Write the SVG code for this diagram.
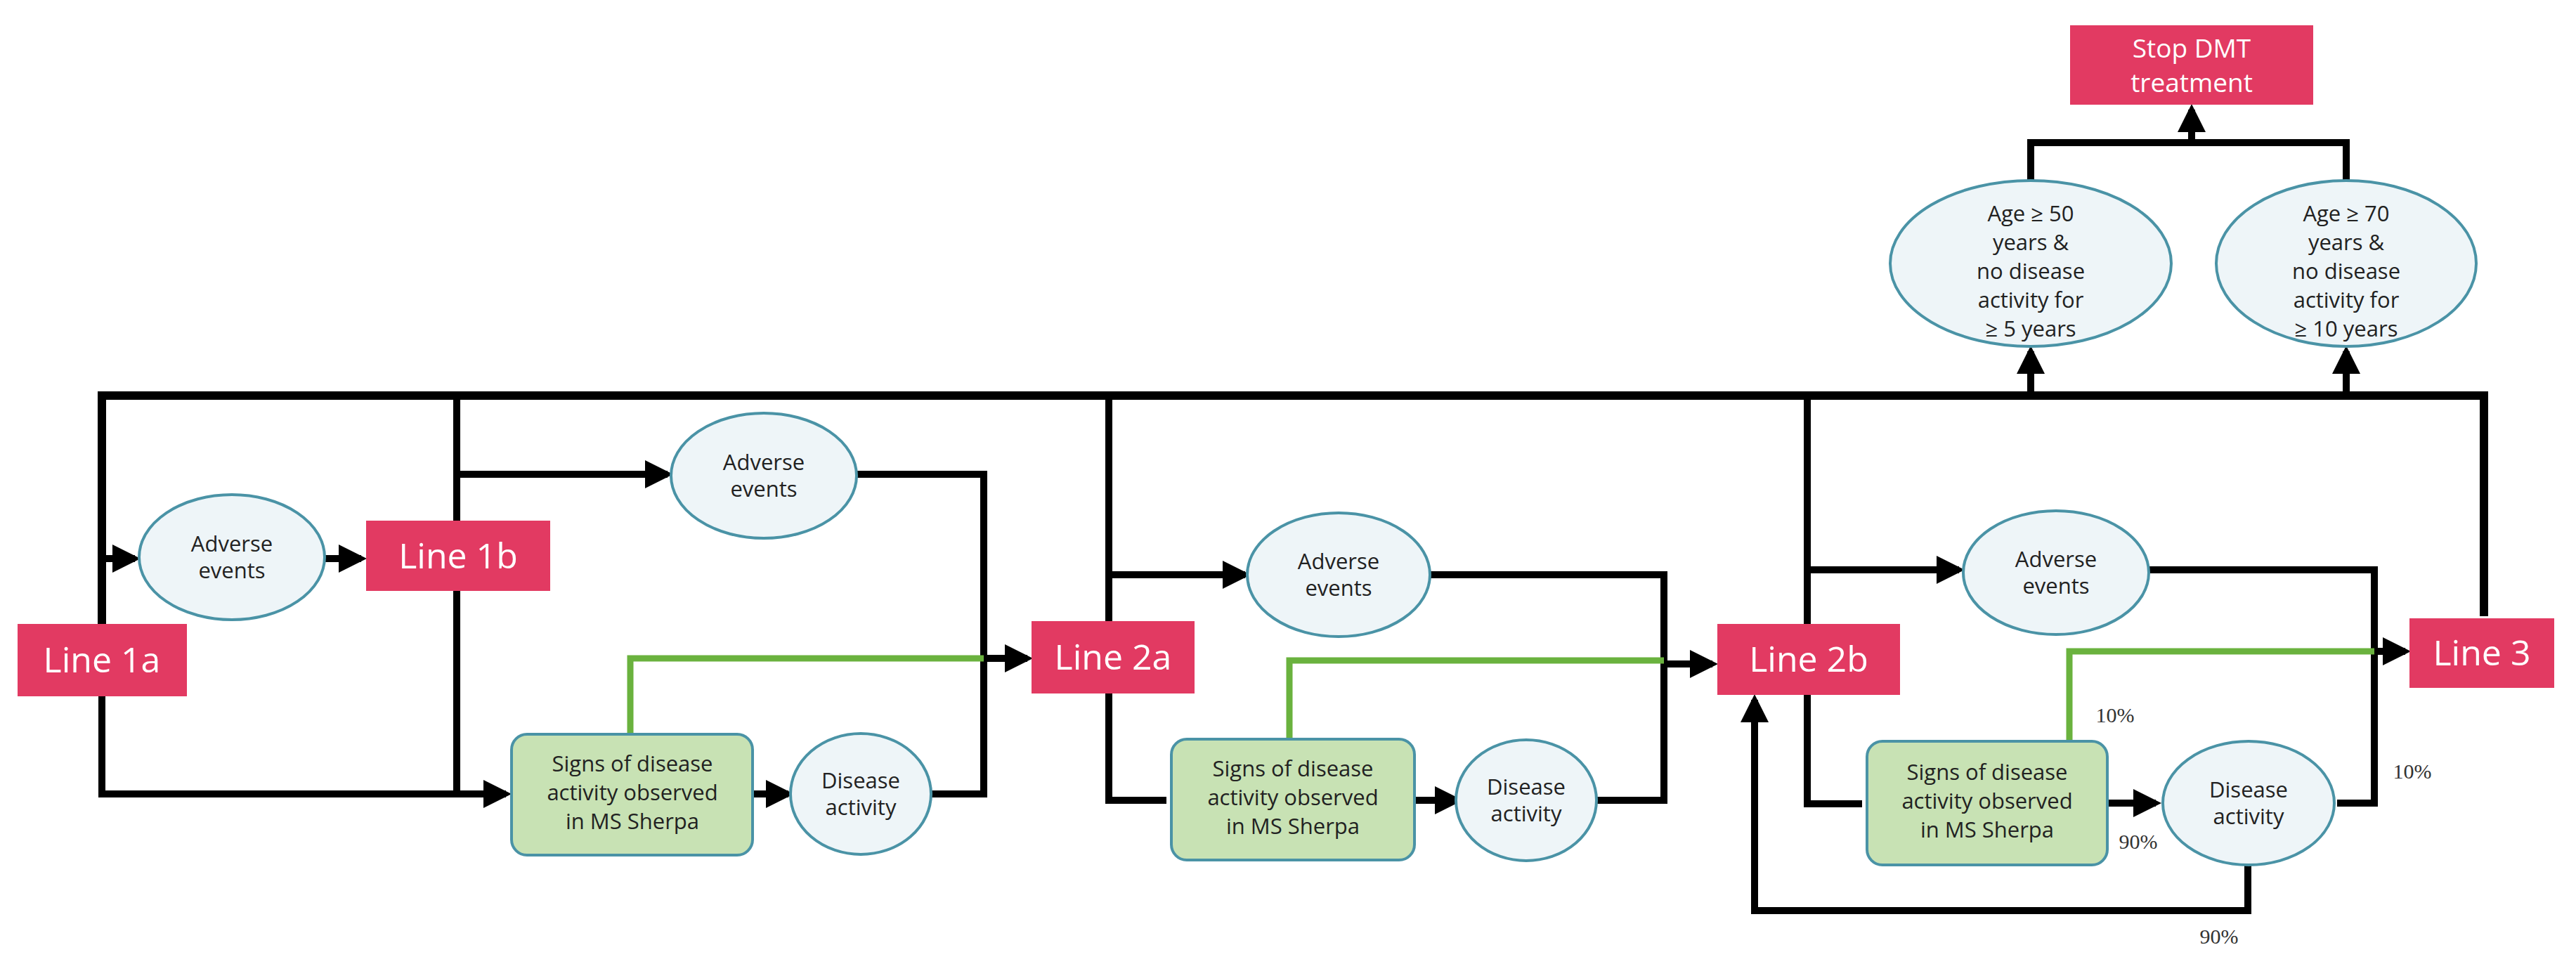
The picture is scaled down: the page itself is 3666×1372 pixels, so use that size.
<svg xmlns="http://www.w3.org/2000/svg" width="3666" height="1372" viewBox="0 0 3666 1372">
<defs>
<marker id="ah" markerWidth="4" markerHeight="4" refX="3.2" refY="2" orient="auto" markerUnits="strokeWidth"><path d="M0,0 L4,2 L0,4 z" fill="#000"/></marker>
<style>
.c{fill:none;stroke:#000;stroke-width:10;stroke-linejoin:miter}
.g{fill:none;stroke:#6ab23e;stroke-width:9}
.ln{fill:#e23a62}
.lt{fill:#fff;font-family:"Open Sans","Liberation Sans",sans-serif;font-size:50px;text-anchor:middle}
.el{fill:#eef5f8;stroke:#4a93a6;stroke-width:4}
.sg{fill:#c8e2b4;stroke:#4a93a6;stroke-width:4}
.t{fill:#222;font-family:"Open Sans","Liberation Sans",sans-serif;font-size:31px;text-anchor:middle}
.p{fill:#333;font-family:"Liberation Serif",serif;font-size:30px;text-anchor:middle}
</style>
</defs>
<g id="connectors">
<path class="c" style="stroke-width:12" d="M145,888 V563 H3535 V877"/>
<path class="c" d="M145,991 V1130 H720" marker-end="url(#ah)"/>
<path class="c" d="M145,795 H192" marker-end="url(#ah)"/>
<path class="c" d="M463,795 H514" marker-end="url(#ah)"/>
<path class="c" d="M650,563 V741 M650,841 V1130"/>
<path class="c" d="M650,675 H950" marker-end="url(#ah)"/>
<path class="c" d="M1219,675 H1400 V1130 H1320"/>
<path class="g" d="M897,1045 V937 H1400"/>
<path class="c" d="M1400,937 H1462" marker-end="url(#ah)"/>
<path class="c" d="M1071,1130 H1122" marker-end="url(#ah)"/>
<path class="c" d="M1578,563 V884 M1578,987 V1139 H1660"/>
<path class="c" d="M1578,818 H1772" marker-end="url(#ah)"/>
<path class="c" d="M2035,818 H2368 V1139 H2270"/>
<path class="g" d="M1835,1052 V940 H2368"/>
<path class="c" d="M2368,945 H2437" marker-end="url(#ah)"/>
<path class="c" d="M2013,1139 H2074" marker-end="url(#ah)"/>
<path class="c" d="M2572,563 V888 M2572,989 V1144 H2650"/>
<path class="c" d="M2572,811 H2788" marker-end="url(#ah)"/>
<path class="c" d="M3058,811 H3379 V1143 H3326"/>
<path class="g" d="M2945,1055 V927 H3379"/>
<path class="c" d="M3379,927 H3423" marker-end="url(#ah)"/>
<path class="c" d="M2999,1143 H3068" marker-end="url(#ah)"/>
<path class="c" d="M3199,1231 V1296 H2497 V996" marker-end="url(#ah)"/>
<path class="c" d="M2890,563 V500" marker-end="url(#ah)"/>
<path class="c" d="M3339,563 V500" marker-end="url(#ah)"/>
<path class="c" d="M2890,257 V203 H3339 V257 M3119,203 V156" marker-end="url(#ah)"/>
</g>
<g id="line1a"><rect class="ln" x="25" y="888" width="241" height="103"/><text class="lt" x="145" y="957">Line 1a</text></g>
<g id="line1b"><rect class="ln" x="521" y="741" width="262" height="100"/><text class="lt" x="652" y="809">Line 1b</text></g>
<g id="line2a"><rect class="ln" x="1468" y="884" width="232" height="103"/><text class="lt" x="1584" y="953">Line 2a</text></g>
<g id="line2b"><rect class="ln" x="2444" y="888" width="260" height="101"/><text class="lt" x="2574" y="956">Line 2b</text></g>
<g id="line3"><rect class="ln" x="3429" y="880" width="206" height="99"/><text class="lt" x="3532" y="947">Line 3</text></g>
<g id="stop"><rect class="ln" x="2946" y="36" width="346" height="113"/><text class="lt" style="font-size:37px" x="3119" y="82">Stop DMT</text><text class="lt" style="font-size:37px" x="3119" y="131">treatment</text></g>
<g id="ae1"><ellipse class="el" cx="330" cy="793" rx="132" ry="89"/><text class="t" x="330" y="785">Adverse</text><text class="t" x="330" y="823">events</text></g>
<g id="ae2"><ellipse class="el" cx="1087" cy="677" rx="132" ry="89"/><text class="t" x="1087" y="669">Adverse</text><text class="t" x="1087" y="707">events</text></g>
<g id="ae3"><ellipse class="el" cx="1905" cy="818" rx="130" ry="88"/><text class="t" x="1905" y="810">Adverse</text><text class="t" x="1905" y="848">events</text></g>
<g id="ae4"><ellipse class="el" cx="2926" cy="815" rx="132" ry="88"/><text class="t" x="2926" y="807">Adverse</text><text class="t" x="2926" y="845">events</text></g>
<g id="signs1"><rect class="sg" x="728" y="1045" width="343" height="172" rx="22"/><text class="t" x="900" y="1098">Signs of disease</text><text class="t" x="900" y="1139">activity observed</text><text class="t" x="900" y="1180">in MS Sherpa</text></g>
<g id="signs2"><rect class="sg" x="1667" y="1052" width="346" height="172" rx="22"/><text class="t" x="1840" y="1105">Signs of disease</text><text class="t" x="1840" y="1146">activity observed</text><text class="t" x="1840" y="1187">in MS Sherpa</text></g>
<g id="signs3"><rect class="sg" x="2657" y="1055" width="342" height="176" rx="22"/><text class="t" x="2828" y="1110">Signs of disease</text><text class="t" x="2828" y="1151">activity observed</text><text class="t" x="2828" y="1192">in MS Sherpa</text></g>
<g id="da1"><ellipse class="el" cx="1225" cy="1130" rx="100" ry="86"/><text class="t" x="1225" y="1122">Disease</text><text class="t" x="1225" y="1160">activity</text></g>
<g id="da2"><ellipse class="el" cx="2172" cy="1139" rx="100" ry="86"/><text class="t" x="2172" y="1131">Disease</text><text class="t" x="2172" y="1169">activity</text></g>
<g id="da3"><ellipse class="el" cx="3200" cy="1143" rx="122" ry="88"/><text class="t" x="3200" y="1135">Disease</text><text class="t" x="3200" y="1173">activity</text></g>
<g id="age50"><ellipse class="el" cx="2890" cy="375" rx="200" ry="118"/><text class="t" x="2890" y="315">Age  ≥ 50</text><text class="t" x="2890" y="356">years &amp;</text><text class="t" x="2890" y="397">no disease</text><text class="t" x="2890" y="438">activity for</text><text class="t" x="2890" y="479">≥ 5 years</text></g>
<g id="age70"><ellipse class="el" cx="3339" cy="375" rx="185" ry="118"/><text class="t" x="3339" y="315">Age  ≥ 70</text><text class="t" x="3339" y="356">years &amp;</text><text class="t" x="3339" y="397">no disease</text><text class="t" x="3339" y="438">activity for</text><text class="t" x="3339" y="479">≥ 10 years</text></g>
<g id="pct"><text class="p" x="3010" y="1028">10%</text><text class="p" x="3433" y="1108">10%</text><text class="p" x="3043" y="1208">90%</text><text class="p" x="3158" y="1343">90%</text></g>
</svg>
